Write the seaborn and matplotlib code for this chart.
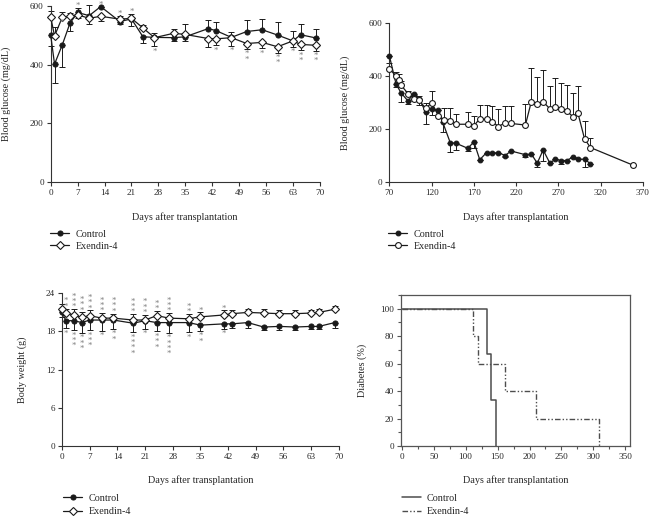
import numpy as np
import pandas as pd
import matplotlib
matplotlib.use("Agg")
import matplotlib.pyplot as plt
from matplotlib.ticker import MultipleLocator
import seaborn as sns

# ---- panel A: blood glucose, days 0-70 ----
days_a = [0, 1, 3, 5, 7, 10, 13, 18, 21, 24, 27, 32, 35, 41, 43, 47, 51, 55, 59, 63, 65, 69]
ctrl_glu_a = [500, 402, 467, 541, 578, 567, 598, 547, 556, 495, 493, 492, 495, 523, 516, 493, 513, 519, 501, 481, 502, 491]
ctrl_glu_a_err = [35, 65, 75, 25, 15, 35, 0, 10, 25, 20, 15, 10, 15, 30, 28, 20, 40, 35, 45, 35, 35, 30]
ex_glu_a = [562, 498, 561, 566, 570, 558, 565, 555, 558, 525, 492, 507, 503, 489, 488, 492, 472, 476, 461, 481, 469, 466]
ex_glu_a_err = [20, 30, 20, 10, 10, 20, 15, 10, 15, 10, 30, 15, 35, 30, 22, 28, 18, 20, 20, 20, 20, 18]
glu_star_up_days = [7, 13, 18, 21]
glu_star_up_n = [1, 1, 1, 1]
glu_star_dn_days = [3, 27, 43, 47, 51, 55, 59, 63, 65, 69]
glu_star_dn_n = [1, 1, 1, 1, 2, 1, 2, 1, 2, 2]

# ---- panel B: blood glucose, days 70-360 ----
days_b_ctrl = [70, 78, 84, 92, 99, 105, 113, 120, 128, 133, 142, 149, 163, 170, 177, 185, 192, 199, 207, 214,
               231, 238, 245, 252, 260, 266, 273, 280, 287, 293, 301, 308]
ctrl_glu_b = [477, 369, 336, 306, 334, 315, 265, 277, 271, 227, 149, 146, 127, 152, 84, 111, 109, 111, 100, 117,
              103, 106, 71, 121, 71, 86, 81, 81, 94, 86, 86, 69]
ctrl_glu_b_err = [0, 10, 35, 12, 8, 25, 45, 25, 20, 37, 34, 25, 10, 24, 0, 0, 0, 0, 6, 0,
                  10, 0, 14, 41, 0, 0, 12, 0, 0, 0, 29, 0]
days_b_ex = [70, 78, 82, 84, 92, 99, 105, 113, 120, 128, 135, 142, 149, 163, 170, 177, 185, 192, 199, 207, 214,
             231, 238, 245, 252, 260, 266, 273, 280, 287, 293, 301, 308, 358]
ex_glu_b = [428, 400, 384, 365, 334, 315, 309, 278, 299, 250, 234, 231, 218, 218, 212, 239, 236, 228, 209, 224, 221,
            215, 303, 293, 303, 276, 284, 276, 268, 247, 262, 163, 130, 64]
ex_glu_b_err = [20, 15, 25, 15, 8, 15, 16, 22, 45, 20, 47, 50, 38, 47, 37, 51, 54, 58, 66, 62, 65,
                79, 126, 104, 119, 87, 107, 99, 98, 88, 101, 69, 35, 0]

# ---- panel C: body weight ----
days_c = days_a
ctrl_bw = [21.0, 19.7, 19.7, 19.4, 19.8, 19.8, 19.8, 19.3, 19.7, 19.4, 19.4, 19.4, 19.0, 19.2, 19.2, 19.4,
           18.7, 18.8, 18.7, 18.8, 18.8, 19.4]
ctrl_bw_err = [0.8, 1.2, 1.5, 1.6, 1.6, 1.7, 1.4, 1.4, 1.3, 1.4, 1.6, 1.5, 0.9, 0.8, 0.7, 0.8,
               0.5, 0.6, 0.5, 0.4, 0.4, 0.8]
ex_bw = [21.5, 20.9, 20.6, 20.2, 20.5, 20.1, 20.1, 19.8, 19.8, 20.5, 20.1, 20.0, 20.3, 20.6, 20.8, 21.0,
         20.9, 20.8, 20.8, 20.9, 21.0, 21.5]
ex_bw_err = [0.8, 0.7, 0.9, 0.8, 0.8, 0.8, 0.7, 0.9, 0.8, 0.7, 0.8, 0.7, 0.7, 0.7, 0.6, 0.6,
             0.6, 0.6, 0.6, 0.5, 0.5, 0.5]
bw_star_days = [1, 3, 5, 7, 10, 13, 18, 21, 24, 27, 32, 35, 41]
bw_star_up_n = [2, 3, 3, 3, 3, 3, 3, 3, 2, 3, 2, 1, 1]
bw_star_dn_n = [1, 3, 3, 3, 1, 2, 4, 1, 3, 4, 1, 2, 1]

# ---- panel D: diabetes incidence ----
km_ctrl_days = [0, 133, 140, 147]
km_ctrl_pct = [100, 66.7, 33.3, 0]
km_ex_days = [0, 112, 119, 161, 210, 308]
km_ex_pct = [100, 80, 60, 40, 20, 0]

sns.set_theme(style="ticks")
plt.rcParams["font.family"] = ["Liberation Serif", "DejaVu Serif"]
plt.rcParams["axes.edgecolor"] = "#333333"
plt.rcParams["axes.linewidth"] = 0.8

INK = "#1a1a1a"
STAR = "#7f7f7f"
TICK_FS = 6.6
LAB_FS = 7.3

fig = plt.figure(figsize=(6.5, 5.21), dpi=100)
ax1 = fig.add_axes([0.078, 0.6507, 0.414, 0.3378])
ax2 = fig.add_axes([0.599, 0.6507, 0.390, 0.305])
ax3 = fig.add_axes([0.0954, 0.144, 0.4257, 0.293])
ax4 = fig.add_axes([0.617, 0.144, 0.352, 0.290])


def series(ax, x, y, lo, hi, marker, face, ms, label):
    ax.errorbar(x, y, yerr=[lo, hi], fmt="none", ecolor=INK, elinewidth=0.7,
                capsize=2.5, capthick=0.7, zorder=2, clip_on=False)
    df = pd.DataFrame({"x": x, "y": y})
    sns.lineplot(data=df, x="x", y="y", ax=ax, color=INK, lw=0.9, marker=marker,
                 markersize=ms, markerfacecolor=face, markeredgecolor=INK,
                 markeredgewidth=0.8, estimator=None, label=label, zorder=3, clip_on=False)


def split_err(a, b, ea, eb):
    a, b, ea, eb = map(np.asarray, (a, b, ea, eb))
    up = a >= b
    z = np.zeros_like(ea, dtype=float)
    return (np.where(up, z, ea), np.where(up, ea, z),
            np.where(up, eb, z), np.where(up, z, eb))


def stars(ax, x, y, n, above):
    ax.annotate("\n".join(["*"] * n), (x, y), xytext=(0, 0 if above else -1),
                textcoords="offset points", ha="center", va="baseline" if above else "top",
                fontsize=6.3, color=STAR, linespacing=0.55, annotation_clip=False)


def style(ax):
    sns.despine(ax=ax)
    ax.tick_params(direction="out", length=3, width=0.8, color="#333333",
                   labelsize=TICK_FS, pad=2)


# panel A
c_lo, c_hi, e_lo, e_hi = split_err(ctrl_glu_a, ex_glu_a, ctrl_glu_a_err, ex_glu_a_err)
series(ax1, days_a, ctrl_glu_a, c_lo, c_hi, "o", INK, 3.6, "Control")
series(ax1, days_a, ex_glu_a, e_lo, e_hi, "D", "white", 4.2, "Exendin-4")
for d, n in zip(glu_star_up_days, glu_star_up_n):
    i = days_a.index(d)
    stars(ax1, d, max(ctrl_glu_a[i] + c_hi[i], ex_glu_a[i] + e_hi[i]), n, True)
for d, n in zip(glu_star_dn_days, glu_star_dn_n):
    i = days_a.index(d)
    stars(ax1, d, ex_glu_a[i] - e_lo[i], n, False)
ax1.set_xlim(0, 70)
ax1.set_ylim(0, 600)
ax1.set_xticks(range(0, 71, 7))
ax1.set_yticks([0, 200, 400, 600])
ax1.set_ylabel("Blood glucose (mg/dL)", fontsize=LAB_FS)
ax1.yaxis.set_label_coords(-0.149, 0.5)

# panel B
series(ax2, days_b_ctrl, ctrl_glu_b, ctrl_glu_b_err, np.zeros(len(ctrl_glu_b)), "o", INK, 3.4, "Control")
series(ax2, days_b_ex, ex_glu_b, np.zeros(len(ex_glu_b)), ex_glu_b_err, "o", "white", 4.2, "Exendin-4")
ax2.set_xlim(70, 370)
ax2.set_ylim(0, 600)
ax2.set_xticks(range(70, 371, 50))
ax2.set_yticks([0, 200, 400, 600])
ax2.set_ylabel("Blood glucose (mg/dL)", fontsize=LAB_FS)
ax2.yaxis.set_label_coords(-0.155, 0.5)

# panel C
series(ax3, days_c, ctrl_bw, ctrl_bw_err, np.zeros(len(ctrl_bw)), "o", INK, 3.6, "Control")
series(ax3, days_c, ex_bw, np.zeros(len(ex_bw)), ex_bw_err, "D", "white", 4.2, "Exendin-4")
for d, nu, nd in zip(bw_star_days, bw_star_up_n, bw_star_dn_n):
    i = days_c.index(d)
    stars(ax3, d, ex_bw[i] + ex_bw_err[i], nu, True)
    stars(ax3, d, ctrl_bw[i] - ctrl_bw_err[i], nd, False)
ax3.set_xlim(0, 70)
ax3.set_ylim(0, 24)
ax3.set_xticks(range(0, 71, 7))
ax3.set_yticks(range(0, 25, 6))
ax3.set_ylabel("Body weight (g)", fontsize=LAB_FS)
ax3.yaxis.set_label_coords(-0.128, 0.5)

# panel D
sns.lineplot(x=km_ctrl_days, y=km_ctrl_pct, ax=ax4, color="#4d4d4d", lw=1.1,
             drawstyle="steps-post", estimator=None, label="Control")
sns.lineplot(x=km_ex_days, y=km_ex_pct, ax=ax4, color="#4d4d4d", lw=1.0,
             linestyle=(0, (4, 1.5, 1, 1.5, 1, 1.5)), drawstyle="steps-post",
             estimator=None, label="Exendin-4")
ax4.set_xlim(-1, 357)
ax4.set_ylim(0, 110)
ax4.set_xticks(range(0, 351, 50))
ax4.set_yticks(range(0, 101, 20))
ax4.xaxis.set_minor_locator(MultipleLocator(25))
ax4.yaxis.set_minor_locator(MultipleLocator(10))
ax4.tick_params(which="both", direction="out", color="#555555", width=0.8)
ax4.tick_params(which="major", length=3, labelsize=TICK_FS, pad=2)
ax4.tick_params(which="minor", length=2)
for s in ax4.spines.values():
    s.set_color("#555555")
    s.set_linewidth(0.9)
ax4.set_ylabel("Diabetes (%)", fontsize=LAB_FS)
ax4.yaxis.set_label_coords(-0.150, 0.5)

for ax in (ax1, ax2, ax3):
    style(ax)

xl_y = {ax1: -0.17, ax2: -0.189, ax3: -0.19, ax4: -0.192}
legend_anchor = {ax1: (0.077, 0.5596), ax2: (0.597, 0.5596),
                 ax3: (0.097, 0.0524), ax4: (0.618, 0.0524)}
for ax in (ax1, ax2, ax3, ax4):
    ax.set_xlabel("Days after transplantation", fontsize=LAB_FS)
    ax.xaxis.set_label_coords(0.5, xl_y[ax])
    sp = 0.3 if ax in (ax1, ax2) else 0.45
    ax.legend(loc="upper left", bbox_to_anchor=legend_anchor[ax], bbox_transform=fig.transFigure,
              frameon=False, fontsize=LAB_FS, handlelength=1.9, handletextpad=0.6,
              borderpad=0, borderaxespad=0, labelspacing=sp)

fig.savefig("out.png", dpi=100)
